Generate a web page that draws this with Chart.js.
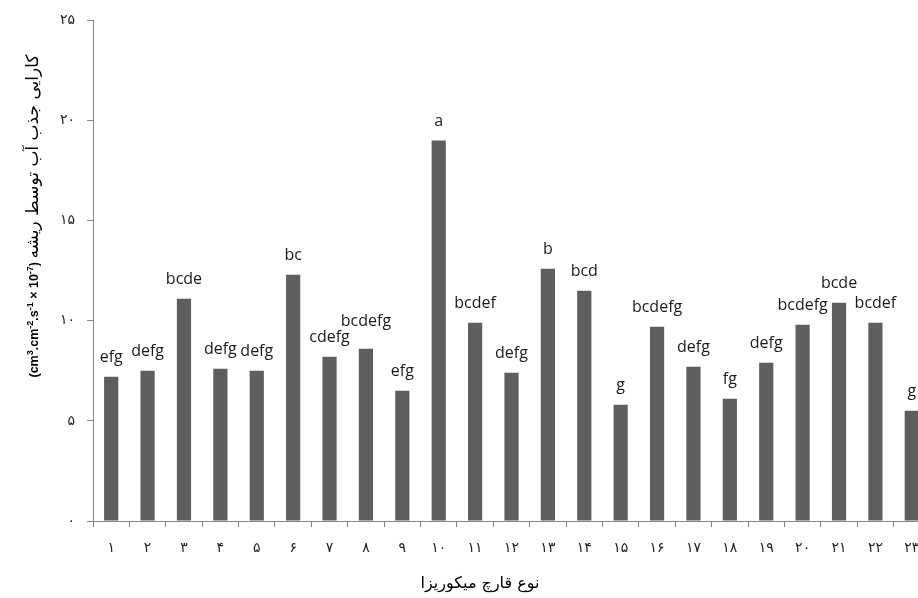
<!DOCTYPE html>
<html lang="fa">
<head>
<meta charset="utf-8">
<script src="https://cdn.jsdelivr.net/npm/chart.js@4.4.0/dist/chart.umd.min.js"></script>
<style>
    html, body { margin: 0; padding: 0; background: #fff; overflow: hidden; }
    #wrap { position: relative; width: 940px; height: 598px; }
</style>
</head>
<body>
<div id="wrap"><canvas id="chart"></canvas></div>
<script>
// نوع قارچ میکوریزا (محور افقی)
const categories = ['۱', '۲', '۳', '۴', '۵', '۶', '۷', '۸', '۹', '۱۰', '۱۱', '۱۲',
    '۱۳', '۱۴', '۱۵', '۱۶', '۱۷', '۱۸', '۱۹', '۲۰', '۲۱', '۲۲', '۲۳'];

// کارایی جذب آب توسط ریشه
const values = [7.2, 7.5, 11.1, 7.6, 7.5, 12.3, 8.2, 8.6, 6.5, 19.0, 9.9, 7.4,
    12.6, 11.5, 5.8, 9.7, 7.7, 6.1, 7.9, 9.8, 10.9, 9.9, 5.5];

// حروف مقایسه میانگین
const letters = ['efg', 'defg', 'bcde', 'defg', 'defg', 'bc', 'cdefg', 'bcdefg', 'efg', 'a', 'bcdef', 'defg',
    'b', 'bcd', 'g', 'bcdefg', 'defg', 'fg', 'defg', 'bcdefg', 'bcde', 'bcdef', 'g'];

const yMin = 0;
const yMax = 25;
const yStep = 5;

const xTitle = 'نوع قارچ میکوریزا';
const yTitleFa = 'کارایی جذب آب توسط ریشه';

// تبدیل اعداد به ارقام فارسی
function toPersian(n) {
    const digits = '۰۱۲۳۴۵۶۷۸۹';
    return String(n).replace(/[0-9]/g, d => digits[d]);
}

// حروف بالای ستون‌ها (با جابجایی در صورت هم‌پوشانی)
const lettersPlugin = {
    id: 'letters',
    afterDatasetsDraw(chart) {
        const ctx = chart.ctx;
        const meta = chart.getDatasetMeta(0);
        ctx.save();
        ctx.font = '16px "Open Sans", sans-serif';
        ctx.fillStyle = '#1a1a1a';
        ctx.textAlign = 'center';
        ctx.textBaseline = 'alphabetic';
        let prev = null;
        meta.data.forEach((bar, i) => {
            const w = ctx.measureText(letters[i]).width;
            let y = bar.y - 15;
            if (prev && bar.x - w / 2 < prev.right + 2 && Math.abs(y - prev.y) < 16) {
                y = prev.y - 16;
            }
            ctx.fillText(letters[i], bar.x, y);
            prev = { right: bar.x + w / 2, y: y };
        });
        ctx.restore();
    }
};

// عنوان محورها
const titlesPlugin = {
    id: 'titles',
    afterDraw(chart) {
        const ctx = chart.ctx;
        ctx.save();
        ctx.fillStyle = '#000';

        // عنوان محور افقی
        ctx.font = '16px "DejaVu Sans", sans-serif';
        ctx.textAlign = 'center';
        ctx.textBaseline = 'middle';
        ctx.fillText(xTitle, 480, 584);

        // عنوان محور عمودی با بالانویس
        const runs = [
            ['(cm', false], ['3', true], ['.cm', false], ['-2', true], ['.s', false], ['-1', true],
            [' × 10', false], ['-7', true], [') ', false]
        ];
        const base = 'bold 12.5px "Liberation Sans", sans-serif';
        const sup = 'bold 9px "Liberation Sans", sans-serif';
        const faFont = '17px "DejaVu Sans", sans-serif';
        let total = 0;
        runs.forEach(r => { ctx.font = r[1] ? sup : base; total += ctx.measureText(r[0]).width; });
        ctx.font = faFont;
        total += ctx.measureText(yTitleFa).width;

        ctx.translate(33, 216);
        ctx.rotate(-Math.PI / 2);
        ctx.textAlign = 'left';
        ctx.textBaseline = 'alphabetic';
        let x = -total / 2;
        runs.forEach(r => {
            ctx.font = r[1] ? sup : base;
            ctx.fillText(r[0], x, r[1] ? 0 : 5);
            x += ctx.measureText(r[0]).width;
        });
        ctx.font = faFont;
        ctx.fillText(yTitleFa, x, 5);
        ctx.restore();
    }
};

document.addEventListener('DOMContentLoaded', function() {
    const ctx = document.getElementById('chart').getContext('2d');
    new Chart(ctx, {
        type: 'bar',
        data: {
            labels: categories,
            datasets: [{
                data: values,
                backgroundColor: '#5e5e5e',
                borderWidth: 0,
                barPercentage: 0.39,
                categoryPercentage: 1
            }]
        },
        options: {
            responsive: true,
            maintainAspectRatio: false,
            animation: false,
            layout: { padding: { top: 20, right: 10, left: 0, bottom: 0 } },
            plugins: {
                legend: { display: false },
                tooltip: { enabled: false }
            },
            scales: {
                x: {
                    afterFit: s => { s.height = 77; },
                    grid: {
                        display: true,
                        offset: true,
                        drawOnChartArea: false,
                        tickLength: 6,
                        color: '#868686'
                    },
                    border: { color: '#868686', width: 1 },
                    ticks: {
                        padding: 13,
                        color: '#222',
                        font: { family: '"DejaVu Sans", sans-serif', size: 14 },
                        maxRotation: 0,
                        autoSkip: false
                    }
                },
                y: {
                    min: yMin,
                    max: yMax,
                    afterFit: s => { s.width = 93; },
                    grid: {
                        display: true,
                        drawOnChartArea: false,
                        tickLength: 6,
                        color: '#868686'
                    },
                    border: { color: '#868686', width: 1 },
                    ticks: {
                        stepSize: yStep,
                        padding: 12,
                        color: '#222',
                        font: { family: '"DejaVu Sans", sans-serif', size: 14 },
                        callback: v => toPersian(v)
                    }
                }
            }
        },
        plugins: [lettersPlugin, titlesPlugin]
    });
});
</script>
</body>
</html>
